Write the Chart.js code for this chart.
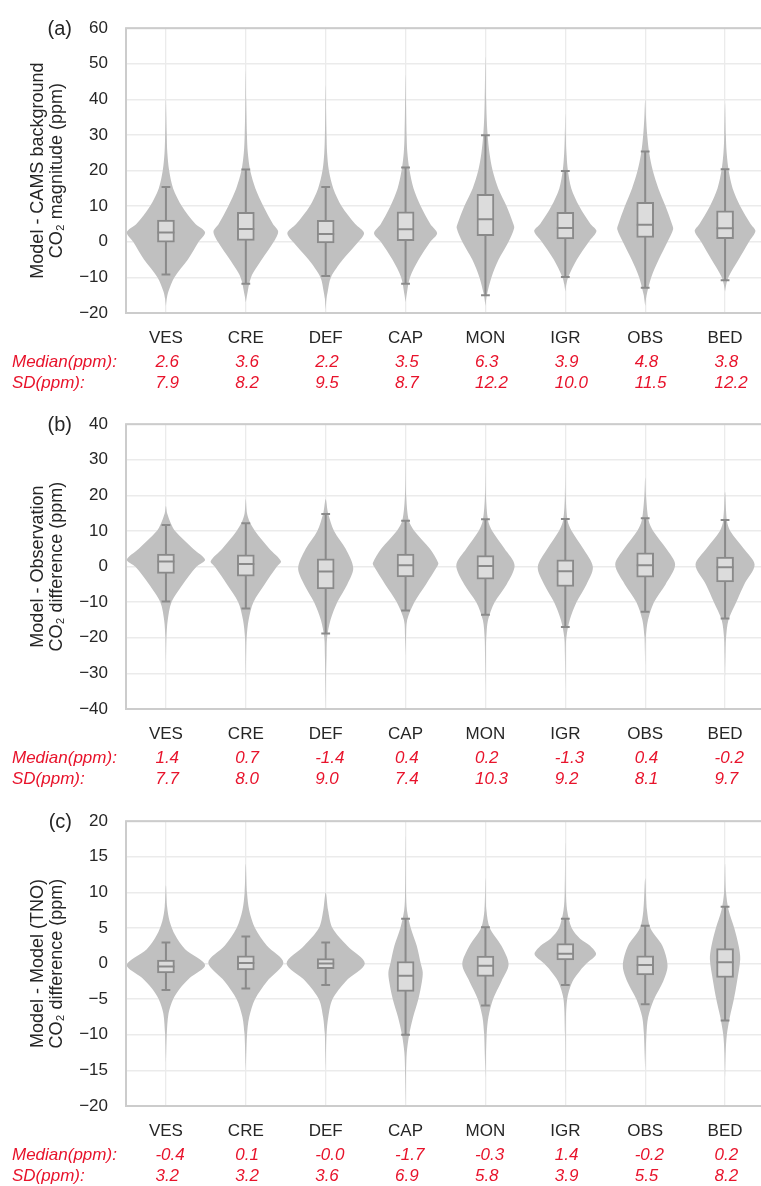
<!DOCTYPE html>
<html>
<head>
<meta charset="utf-8">
<script src="https://cdn.jsdelivr.net/npm/chart.js@4.4.1/dist/chart.umd.min.js"></script>
<style>
  html, body { margin: 0; padding: 0; background: #fff; overflow: hidden; width: 761px; height: 1186px; }
  #wrap { position: relative; width: 761px; height: 1186px; overflow: hidden; }
  canvas { position: absolute; left: 0; }
</style>
</head>
<body>
<div id="wrap">
  <canvas id="panelA" width="765" height="396" style="top:0px"></canvas>
  <canvas id="panelB" width="765" height="396" style="top:396px"></canvas>
  <canvas id="panelC" width="765" height="396" style="top:793px"></canvas>
</div>
<script>
// Stations along the x axis
const sites = ['VES', 'CRE', 'DEF', 'CAP', 'MON', 'IGR', 'OBS', 'BED'];

// ---------- (a) Model - CAMS background ----------
const yTicksA = [-20, -10, 0, 10, 20, 30, 40, 50, 60];
const medianA = [2.6, 3.6, 2.2, 3.5, 6.3, 3.9, 4.8, 3.8];
const sdA     = [7.9, 8.2, 9.5, 8.7, 12.2, 10.0, 11.5, 12.2];
const q1A     = [-0.1, 0.4, -0.3, 0.3, 1.7, 0.8, 1.2, 0.9];
const q3A     = [6.1, 8.3, 6.0, 8.4, 13.3, 8.3, 11.1, 8.7];
const loA     = [-9.2, -11.8, -9.6, -11.8, -15.0, -9.9, -12.9, -10.8];
const hiA     = [15.4, 20.3, 15.4, 20.9, 29.9, 19.9, 25.4, 20.4];
// kernel density profiles: [value, relative density]
const densityA = [
  [[-18,0],[-16,.02],[-14,.06],[-10,.21],[-5,.55],[0,.82],[2.7,.98],[5,.74],[10,.40],[15,.18],[20,.08],[25,.035],[30,.02],[35,.01],[40,0]],
  [[-17,0],[-15,.03],[-10,.13],[-5,.40],[0,.70],[2.9,.81],[5,.68],[10,.44],[15,.24],[20,.11],[25,.05],[30,.028],[40,.01],[48,0]],
  [[-19,0],[-16,.02],[-14,.05],[-10,.13],[-5,.43],[0,.82],[2.5,.96],[5,.74],[10,.40],[15,.19],[20,.08],[25,.035],[30,.02],[38,.008],[44,0]],
  [[-17,0],[-15,.025],[-10,.11],[-5,.33],[0,.62],[2.4,.79],[5,.62],[10,.38],[15,.20],[20,.10],[25,.045],[30,.025],[40,.01],[47,0]],
  [[-18,0],[-15,.035],[-10,.15],[-5,.33],[0,.58],[3.9,.72],[5,.70],[10,.53],[15,.32],[20,.18],[25,.10],[30,.055],[35,.03],[40,.018],[52,0]],
  [[-14,0],[-12,.025],[-10,.07],[-5,.29],[0,.59],[3,.78],[5,.63],[10,.35],[15,.15],[20,.065],[25,.028],[30,.012],[36,0]],
  [[-18,0],[-15,.035],[-10,.15],[-5,.34],[0,.56],[3.5,.70],[5,.67],[10,.51],[15,.33],[20,.19],[25,.10],[30,.05],[35,.02],[40,0]],
  [[-14,0],[-12,.03],[-10,.08],[-5,.34],[0,.60],[3,.76],[5,.64],[10,.38],[15,.19],[20,.09],[25,.04],[30,.02],[39,0]]
];

// ---------- (b) Model - Observation ----------
const yTicksB = [-40, -30, -20, -10, 0, 10, 20, 30, 40];
const medianB = [1.4, 0.7, -1.4, 0.4, 0.2, -1.3, 0.4, -0.2];
const sdB     = [7.7, 8.0, 9.0, 7.4, 10.3, 9.2, 8.1, 9.7];
const q1B     = [-1.9, -2.7, -6.3, -2.9, -3.5, -5.6, -3.0, -4.3];
const q3B     = [3.5, 3.3, 2.2, 3.5, 3.1, 1.9, 3.9, 2.7];
const loB     = [-9.8, -11.8, -18.8, -12.3, -13.5, -17.0, -12.7, -14.6];
const hiB     = [11.7, 12.2, 14.8, 12.9, 13.3, 13.4, 13.6, 13.1];
const densityB = [
  [[-27,0],[-20,.012],[-15,.045],[-10,.14],[-5,.42],[0,.77],[1.9,.98],[5,.68],[10,.23],[12,.13],[15,.03],[17,0]],
  [[-32,0],[-25,.008],[-20,.02],[-15,.07],[-10,.19],[-5,.47],[0,.78],[1.5,.88],[5,.59],[10,.23],[12.5,.1],[15,.03],[19,0]],
  [[-40,0],[-30,.01],[-25,.02],[-20,.035],[-15,.12],[-10,.29],[-5,.54],[-0.4,.69],[5,.50],[10,.21],[15,.06],[19,0]],
  [[-25,0],[-20,.012],[-15,.04],[-10,.22],[-5,.51],[0,.79],[1,.82],[5,.61],[10,.22],[13,.08],[20,.015],[30,0]],
  [[-35,0],[-25,.01],[-20,.02],[-15,.065],[-10,.23],[-5,.53],[0.4,.73],[5,.48],[10,.17],[13,.065],[20,.012],[31,0]],
  [[-35,0],[-25,.01],[-20,.025],[-15,.11],[-10,.28],[-5,.53],[-0.1,.69],[5,.45],[10,.16],[13,.055],[20,.01],[30,0]],
  [[-28,0],[-20,.015],[-15,.07],[-10,.22],[-5,.51],[0.5,.75],[5,.53],[10,.20],[13,.085],[20,.02],[25,0]],
  [[-31,0],[-25,.01],[-20,.025],[-15,.085],[-10,.28],[-5,.48],[0.5,.74],[5,.47],[10,.13],[13,.045],[21,0]]
];

// ---------- (c) Model - Model (TNO) ----------
const yTicksC = [-20, -15, -10, -5, 0, 5, 10, 15, 20];
const medianC = [-0.4, 0.1, -0.0, -1.7, -0.3, 1.4, -0.2, 0.2];
const sdC     = [3.2, 3.2, 3.6, 6.9, 5.8, 3.9, 5.5, 8.2];
const q1C     = [-1.3, -0.9, -0.7, -3.9, -1.8, 0.5, -1.6, -1.95];
const q3C     = [0.5, 1.1, 0.7, 0.3, 1.05, 2.8, 1.1, 2.1];
const loC     = [-3.7, -3.5, -3.0, -10.0, -5.9, -3.0, -5.7, -8.0];
const hiC     = [2.95, 3.8, 2.95, 6.3, 5.1, 6.3, 5.3, 8.0];
const densityC = [
  [[-14,0],[-10,.02],[-7,.065],[-5,.18],[-3.5,.35],[-2,.6],[-0.2,.98],[2,.48],[4,.23],[6,.09],[8,.03],[11,0]],
  [[-15,0],[-10,.03],[-7.5,.085],[-5,.23],[-2.5,.53],[0.15,.94],[2.5,.53],[5,.23],[7.5,.085],[10,.03],[14,0]],
  [[-15,0],[-10,.02],[-7.5,.065],[-5,.17],[-2.5,.5],[0,.98],[2.5,.54],[5,.17],[7.5,.06],[10,0]],
  [[-20,0],[-15,.012],[-12.5,.03],[-10,.09],[-7.5,.19],[-5,.32],[-2.5,.41],[-1.2,.43],[0,.38],[2.5,.28],[5,.13],[7.5,.035],[10,.012],[18,0]],
  [[-16,0],[-10,.03],[-7.5,.075],[-5,.19],[-2.5,.40],[-0.1,.58],[2.5,.40],[5,.11],[7.5,.025],[12,0]],
  [[-19,0],[-10,.008],[-5,.045],[-2.5,.18],[-1,.37],[0,.53],[1.3,.77],[2.5,.62],[3.5,.37],[5,.16],[7.5,.045],[10,.015],[17,0]],
  [[-15,0],[-10,.03],[-7.5,.075],[-5,.22],[-2.5,.45],[-0.3,.56],[2.5,.43],[5,.13],[7.5,.045],[12,0]],
  [[-16,0],[-12.5,.015],[-10,.045],[-7.5,.12],[-5,.22],[-2.5,.30],[0.6,.38],[2.5,.34],[5,.23],[7.5,.09],[10,.025],[14,0]]
];

// ---------- styling ----------
const FONT = '"Liberation Sans", Arial, Helvetica, sans-serif';
const INK = '#262626';
const RED = '#e8132b';
const GRID = '#ebebeb';
const FRAME = '#cccccc';
const VIOLIN = '#c0c0c0';
const BOX_FILL = '#dcdcdc';
const BOX_LINE = '#8a8a8a';
const SLOT_HALF = 0.5;   // a density of 1 fills half the slot on each side
const BOX_HALF = 0.106;
const CAP_HALF = 0.055;

function fmt(v) {
  return (v < 0 || Object.is(v, -0)) ? '-' + Math.abs(v).toFixed(1) : v.toFixed(1);
}

// frame, panel tag and the statistics rows under the axis
const panelDecor = {
  id: 'panelDecor',
  beforeDatasetsDraw(chart) {
    const {ctx, chartArea: a} = chart;
    ctx.save();
    ctx.strokeStyle = FRAME;
    ctx.lineWidth = 2;
    ctx.strokeRect(a.left, a.top, a.right - a.left, a.bottom - a.top);
    ctx.restore();
  },
  afterDraw(chart, args, opts) {
    const {ctx, chartArea: a, scales: {x}} = chart;
    ctx.save();
    ctx.font = '20px ' + FONT;
    ctx.fillStyle = INK;
    ctx.textAlign = 'right';
    ctx.textBaseline = 'middle';
    ctx.fillText(opts.tag, 72, a.top + 1);

    ctx.font = 'italic 17px ' + FONT;
    ctx.fillStyle = RED;
    ctx.textAlign = 'left';
    const yMed = a.bottom + 49.5;
    const ySd = a.bottom + 70;
    ctx.fillText('Median(ppm):', 12, yMed);
    ctx.fillText('SD(ppm):', 12, ySd);
    opts.medians.forEach((m, i) => ctx.fillText(fmt(m), x.getPixelForValue(i) - 10.5, yMed));
    opts.sds.forEach((s, i) => ctx.fillText(s.toFixed(1), x.getPixelForValue(i) - 10.5, ySd));
    ctx.restore();
  }
};

function buildPanel(id, p) {
  const datasets = [];

  // violins: closed outline around each station's density profile
  p.density.forEach((knots, i) => {
    const right = knots.map(([v, d]) => ({x: i + d * SLOT_HALF, y: v}));
    const left = knots.slice(1, -1).reverse().map(([v, d]) => ({x: i - d * SLOT_HALF, y: v}));
    datasets.push({
      type: 'line', data: right.concat(left), fill: 'shape',
      backgroundColor: VIOLIN, borderColor: 'rgba(0,0,0,0)', borderWidth: 0,
      tension: 0.3, pointRadius: 0, order: 5
    });
  });

  // whiskers, caps and medians as broken line runs
  const whisk = [];
  const caps = [];
  const meds = [];
  sites.forEach((s, i) => {
    whisk.push({x: i, y: p.lo[i]}, {x: i, y: p.hi[i]}, {x: i, y: null});
    caps.push({x: i - CAP_HALF, y: p.lo[i]}, {x: i + CAP_HALF, y: p.lo[i]}, {x: i, y: null});
    caps.push({x: i - CAP_HALF, y: p.hi[i]}, {x: i + CAP_HALF, y: p.hi[i]}, {x: i, y: null});
    meds.push({x: i - BOX_HALF, y: p.medians[i]}, {x: i + BOX_HALF, y: p.medians[i]}, {x: i, y: null});
  });
  datasets.push({type: 'line', data: whisk, borderColor: BOX_LINE, borderWidth: 2,
    fill: false, tension: 0, pointRadius: 0, spanGaps: false, order: 4});
  datasets.push({type: 'line', data: caps, borderColor: BOX_LINE, borderWidth: 2,
    fill: false, tension: 0, pointRadius: 0, spanGaps: false, order: 4});

  // interquartile boxes
  datasets.push({
    type: 'bar', data: sites.map((s, i) => ({x: i, y: [p.q1[i], p.q3[i]]})),
    backgroundColor: BOX_FILL, borderColor: BOX_LINE, borderWidth: 2,
    borderSkipped: false, barThickness: 17, order: 3
  });

  datasets.push({type: 'line', data: meds, borderColor: BOX_LINE, borderWidth: 2,
    fill: false, tension: 0, pointRadius: 0, spanGaps: false, order: 2});

  const tickFont = {family: FONT, size: 17};
  return new Chart(document.getElementById(id), {
    type: 'line',
    data: {datasets},
    options: {
      responsive: false,
      devicePixelRatio: 1,
      animation: false,
      events: [],
      layout: {padding: {top: 22, left: 0, right: 0, bottom: 0}},
      plugins: {
        legend: {display: false},
        tooltip: {enabled: false},
        panelDecor: {tag: p.tag, medians: p.medians, sds: p.sds}
      },
      scales: {
        x: {
          type: 'linear', min: -0.5, max: sites.length - 0.5, offset: false,
          afterBuildTicks: s => { s.ticks = sites.map((_, i) => ({value: i})); },
          afterFit: s => { s.height = 83; },
          grid: {color: GRID, lineWidth: 1.3, drawTicks: false, offset: false},
          border: {display: false},
          ticks: {callback: v => sites[v], color: INK, font: tickFont, padding: 15,
                  maxRotation: 0, autoSkip: false}
        },
        y: {
          type: 'linear', min: p.yTicks[0], max: p.yTicks[p.yTicks.length - 1],
          afterBuildTicks: s => { s.ticks = p.yTicks.map(v => ({value: v})); },
          afterFit: s => { s.width = 126; },
          grid: {color: GRID, lineWidth: 1.6, drawTicks: false},
          border: {display: false},
          ticks: {callback: v => (v < 0 ? '\u2212' + Math.abs(v) : String(v)),
                  color: INK, font: tickFont, padding: 18},
          title: {display: true, text: p.title, color: INK,
                  font: {family: FONT, size: 18, lineHeight: 1.08},
                  padding: {top: 28, bottom: 0}}
        }
      }
    },
    plugins: [panelDecor]
  });
}

buildPanel('panelA', {
  tag: '(a)', title: ['Model - CAMS background', 'CO\u2082 magnitude (ppm)'],
  yTicks: yTicksA, medians: medianA, sds: sdA, q1: q1A, q3: q3A, lo: loA, hi: hiA, density: densityA
});
buildPanel('panelB', {
  tag: '(b)', title: ['Model - Observation', 'CO\u2082 difference (ppm)'],
  yTicks: yTicksB, medians: medianB, sds: sdB, q1: q1B, q3: q3B, lo: loB, hi: hiB, density: densityB
});
buildPanel('panelC', {
  tag: '(c)', title: ['Model - Model (TNO)', 'CO\u2082 difference (ppm)'],
  yTicks: yTicksC, medians: medianC, sds: sdC, q1: q1C, q3: q3C, lo: loC, hi: hiC, density: densityC
});
</script>
</body>
</html>
